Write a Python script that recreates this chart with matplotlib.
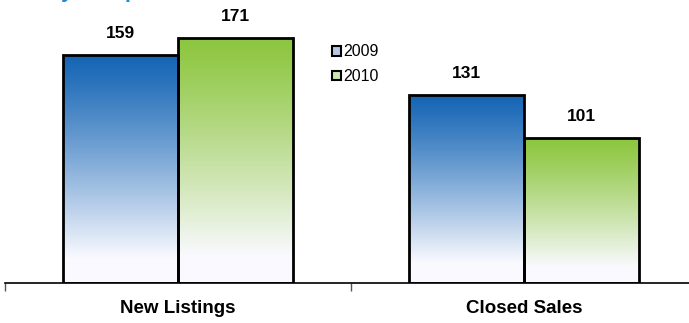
import matplotlib.pyplot as plt
import matplotlib.patches as mpatches
import matplotlib.colors as mcolors
import numpy as np

categories = ["New Listings", "Closed Sales"]
years = ["2009", "2010"]
values_2009 = [159, 131]
values_2010 = [171, 101]

top_colors = {"2009": "#1565b5", "2010": "#8cc63e"}

plt.rcParams["font.family"] = ["Liberation Sans", "DejaVu Sans"]

fig = plt.figure(figsize=(6.89, 3.23), dpi=100)
# axis runs a bit past the right edge, like the original
ax = fig.add_axes([5 / 689, 1 - 283 / 323, 692 / 689, 283 / 323 - 5 / 323])
ymax = 194

x = np.arange(len(categories))
width = 0.332


def gradient_bars(xs, vals, color):
    bars = ax.bar(xs, vals, width, color="none", edgecolor="black", linewidth=2, zorder=3)
    top = np.array(mcolors.to_rgb(color))
    # fade from colour at top to white at the bottom
    t = np.linspace(0, 1, 256)[:, None]
    ramp = np.clip(t * 1.12, 0, 1) ** 1.15
    rgb = top[None, :] * (1 - ramp) + np.array([0.98, 0.98, 1.0])[None, :] * ramp
    img = rgb[:, None, :]
    for b in bars:
        x0, w, h = b.get_x(), b.get_width(), b.get_height()
        im = ax.imshow(img, extent=[x0, x0 + w, 0, h], aspect="auto", origin="upper", zorder=2)
        im.set_clip_path(b)
    return bars


b1 = gradient_bars(x - width / 2, values_2009, top_colors["2009"])
b2 = gradient_bars(x + width / 2, values_2010, top_colors["2010"])

for bars, vals in [(b1, values_2009), (b2, values_2010)]:
    for b, v in zip(bars, vals):
        ax.text(b.get_x() + b.get_width() / 2, v + 10, str(v), ha="center", va="bottom",
                fontsize=12.5, fontweight="bold")

ax.set_xlim(-0.5, 1.5)
ax.set_ylim(0, ymax)
ax.set_xticks([-0.5, 0.5, 1.5])
ax.set_xticklabels([])
ax.tick_params(axis="x", direction="out", length=6, width=1, color="#555555")
ax.set_yticks([])
for s in ["top", "right", "left"]:
    ax.spines[s].set_visible(False)
ax.spines["bottom"].set_linewidth(1.2)

for xi, c in zip(x, categories):
    ax.text(xi, -18, c, ha="center", va="center", fontsize=13.5, fontweight="bold",
            transform=ax.transData, clip_on=False)

handles = [mpatches.Patch(facecolor="#b8c8e4", edgecolor="black", linewidth=1.5, label="2009"),
           mpatches.Patch(facecolor="#cde6b0", edgecolor="black", linewidth=1.5, label="2010")]
fig.legend(handles=handles, loc="upper left", bbox_to_anchor=(326 / 689, 1 - 38 / 323), frameon=False,
           fontsize=11.5, handlelength=0.55, handleheight=0.55, handletextpad=0.15, labelspacing=0.6,
           borderaxespad=0)

# title sits mostly above the canvas, only its lower edge shows
fig.text(-0.005, 1 + 2 / 323, "Activity Comparison Overview", color="#1f88d4", fontsize=15,
         fontweight="bold", va="baseline", ha="left")

fig.savefig("out.png", dpi=100)
